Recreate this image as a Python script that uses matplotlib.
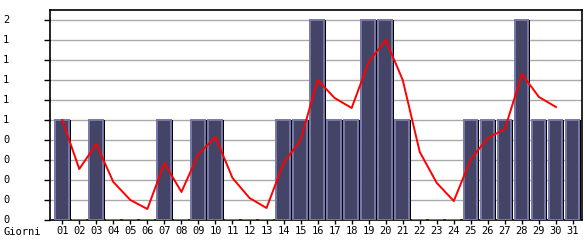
import matplotlib
matplotlib.use('Agg')
from matplotlib import pyplot as plt
from matplotlib import transforms

# dati
giorni = ['%02d' % d for d in range(1, 32)]
visite = [1, 0, 1, 0, 0, 0, 1, 0, 1, 1, 0, 0, 0, 1, 1, 2, 1, 1, 2, 2,
          1, 0, 0, 0, 1, 1, 1, 2, 1, 1, 1]
media = [1.0, 0.51, 0.76, 0.38, 0.2, 0.11, 0.57, 0.28, 0.66, 0.83,
         0.42, 0.22, 0.12, 0.57, 0.8, 1.4, 1.22, 1.12, 1.58, 1.8,
         1.4, 0.68, 0.37, 0.19, 0.61, 0.82, 0.91, 1.46, 1.23, 1.13]
yticks = [0, 0.2, 0.4, 0.6, 0.8, 1.0, 1.2, 1.4, 1.6, 1.8, 2.0]

plt.rcParams['font.family'] = 'DejaVu Sans Mono'
plt.rcParams['font.size'] = 7.5

fig = plt.figure(figsize=(5.85, 2.4), dpi=100)
ax = fig.add_axes([50 / 585, 20 / 240, 532 / 585, 210 / 240])

x = list(range(1, 32))

# griglia
for v in yticks[1:]:
    ax.axhline(v, color='#aaaaaa', lw=1, zorder=0)

# ombra nera + barre
ax.bar([i + 0.43 for i in x], visite, width=0.12, color='black',
       linewidth=0, zorder=2)
ax.bar([i - 0.03 for i in x], visite, width=0.8, color='#444466',
       edgecolor='#7777aa', linewidth=1.4, zorder=3)

# media mobile
ax.plot(x[:len(media)], media, color='#ff0000', lw=1.4, zorder=4)

ax.set_xlim(0.28, 31.53)
ax.set_ylim(0, 2.1)
for s in ax.spines.values():
    s.set_color('black')
    s.set_linewidth(1.2)
    s.set_zorder(1)

ax.set_xticks(x)
ax.set_xticklabels(giorni)
ax.tick_params(axis='x', length=3, width=1, pad=1)
ax.set_yticks(yticks)
ax.set_yticklabels([])
ax.tick_params(axis='y', length=4, width=1)

tr = transforms.blended_transform_factory(fig.transFigure, ax.transData)
for v in yticks:
    ax.text(3 / 585, v, str(int(v)), transform=tr, ha='left', va='center')
fig.text(3 / 585, 1 - 232 / 240, 'Giorni', ha='left', va='center')

plt.savefig('out.png', dpi=100)
plt.close()
